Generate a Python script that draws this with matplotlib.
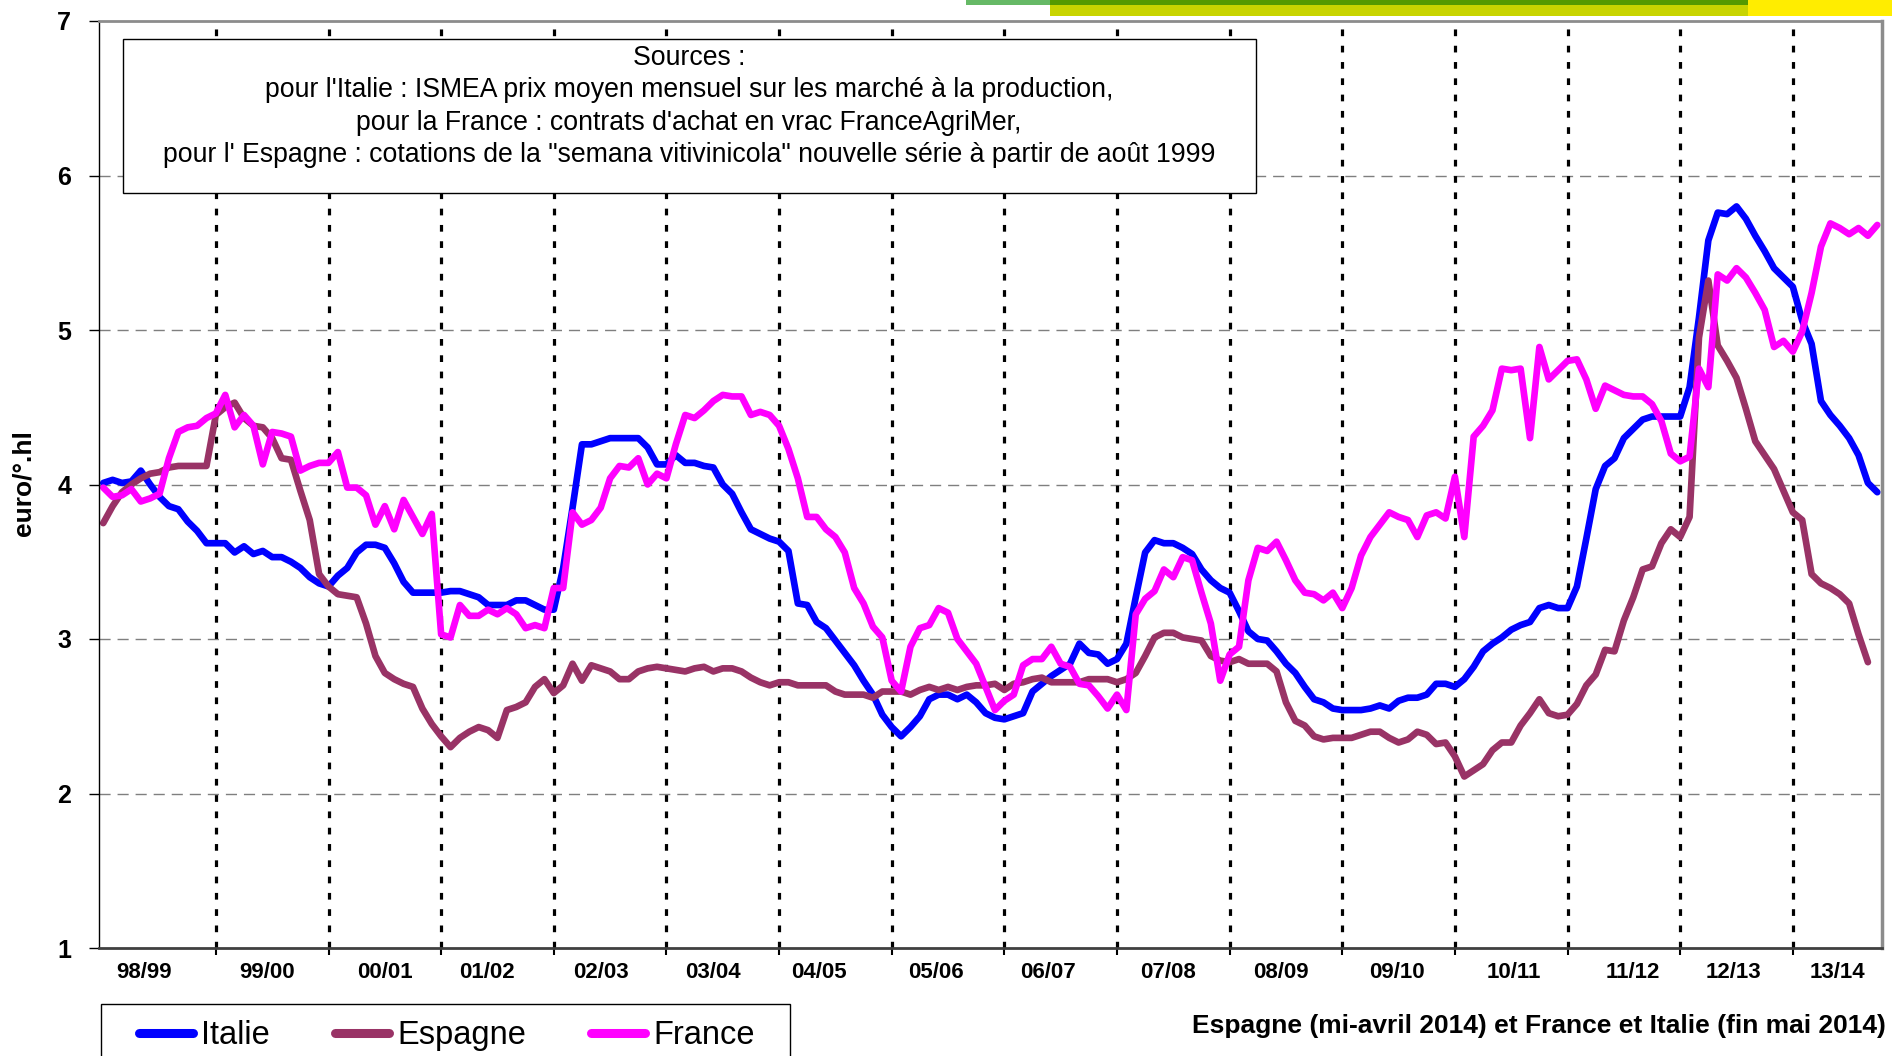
import numpy as np
import matplotlib
matplotlib.use('Agg')
from matplotlib import pyplot as plt
from matplotlib.patches import Rectangle

plt.rcParams['font.family'] = ['Liberation Sans', 'DejaVu Sans']

# prix mensuels en euro/°.hl, mois 0 = août 1998
italie = [
    4.01, 4.03, 4.01, 4.02, 4.09, 4.00, 3.92, 3.86, 3.84, 3.76,
    3.70, 3.62, 3.62, 3.62, 3.56, 3.60, 3.55, 3.57, 3.53, 3.53,
    3.50, 3.46, 3.40, 3.36, 3.34, 3.41, 3.46, 3.56, 3.61, 3.61,
    3.59, 3.49, 3.37, 3.30, 3.30, 3.30, 3.30, 3.31, 3.31, 3.29,
    3.27, 3.22, 3.22, 3.22, 3.25, 3.25, 3.22, 3.19, 3.19, 3.46,
    3.85, 4.26, 4.26, 4.28, 4.30, 4.30, 4.30, 4.30, 4.24, 4.13,
    4.13, 4.19, 4.14, 4.14, 4.12, 4.11, 4.00, 3.94, 3.82, 3.71,
    3.68, 3.65, 3.63, 3.57, 3.23, 3.22, 3.11, 3.07, 2.99, 2.91,
    2.83, 2.73, 2.64, 2.51, 2.43, 2.37, 2.43, 2.50, 2.61, 2.64,
    2.64, 2.61, 2.64, 2.59, 2.52, 2.49, 2.48, 2.50, 2.52, 2.66,
    2.71, 2.76, 2.80, 2.84, 2.97, 2.91, 2.90, 2.84, 2.87, 2.97,
    3.27, 3.56, 3.64, 3.62, 3.62, 3.59, 3.55, 3.45, 3.38, 3.33,
    3.30, 3.18, 3.05, 3.00, 2.99, 2.92, 2.84, 2.78, 2.69, 2.61,
    2.59, 2.55, 2.54, 2.54, 2.54, 2.55, 2.57, 2.55, 2.60, 2.62,
    2.62, 2.64, 2.71, 2.71, 2.69, 2.74, 2.82, 2.92, 2.97, 3.01,
    3.06, 3.09, 3.11, 3.20, 3.22, 3.20, 3.20, 3.34, 3.65, 3.97,
    4.12, 4.17, 4.30, 4.36, 4.42, 4.44, 4.44, 4.44, 4.44, 4.63,
    5.08, 5.58, 5.76, 5.75, 5.80, 5.72, 5.61, 5.51, 5.40, 5.34,
    5.28, 5.06, 4.91, 4.54, 4.45, 4.38, 4.30, 4.19, 4.01, 3.95,
]

espagne = [
    3.75, 3.86, 3.95, 4.00, 4.04, 4.07, 4.08, 4.11, 4.12, 4.12,
    4.12, 4.12, 4.45, 4.50, 4.53, 4.43, 4.38, 4.37, 4.30, 4.17,
    4.16, 3.96, 3.77, 3.42, 3.34, 3.29, 3.28, 3.27, 3.10, 2.89,
    2.78, 2.74, 2.71, 2.69, 2.55, 2.45, 2.37, 2.30, 2.36, 2.40,
    2.43, 2.41, 2.36, 2.54, 2.56, 2.59, 2.69, 2.74, 2.65, 2.70,
    2.84, 2.73, 2.83, 2.81, 2.79, 2.74, 2.74, 2.79, 2.81, 2.82,
    2.81, 2.80, 2.79, 2.81, 2.82, 2.79, 2.81, 2.81, 2.79, 2.75,
    2.72, 2.70, 2.72, 2.72, 2.70, 2.70, 2.70, 2.70, 2.66, 2.64,
    2.64, 2.64, 2.62, 2.66, 2.66, 2.66, 2.64, 2.67, 2.69, 2.67,
    2.69, 2.67, 2.69, 2.70, 2.70, 2.71, 2.67, 2.71, 2.72, 2.74,
    2.75, 2.72, 2.72, 2.72, 2.72, 2.74, 2.74, 2.74, 2.72, 2.74,
    2.78, 2.89, 3.01, 3.04, 3.04, 3.01, 3.00, 2.99, 2.89, 2.86,
    2.85, 2.87, 2.84, 2.84, 2.84, 2.79, 2.59, 2.47, 2.44, 2.37,
    2.35, 2.36, 2.36, 2.36, 2.38, 2.40, 2.40, 2.36, 2.33, 2.35,
    2.40, 2.38, 2.32, 2.33, 2.24, 2.11, 2.15, 2.19, 2.28, 2.33,
    2.33, 2.44, 2.52, 2.61, 2.52, 2.50, 2.51, 2.58, 2.70, 2.77,
    2.93, 2.92, 3.12, 3.27, 3.45, 3.47, 3.62, 3.71, 3.66, 3.79,
    4.95, 5.32, 4.90, 4.80, 4.69, 4.49, 4.28, 4.19, 4.10, 3.96,
    3.82, 3.77, 3.42, 3.36, 3.33, 3.29, 3.23, 3.03, 2.85,
]

france = [
    3.98, 3.92, 3.93, 3.97, 3.89, 3.91, 3.94, 4.17, 4.34, 4.37,
    4.38, 4.43, 4.46, 4.58, 4.37, 4.45, 4.38, 4.13, 4.34, 4.33,
    4.31, 4.09, 4.12, 4.14, 4.14, 4.21, 3.98, 3.98, 3.93, 3.74,
    3.86, 3.71, 3.90, 3.79, 3.68, 3.81, 3.03, 3.01, 3.22, 3.15,
    3.15, 3.19, 3.16, 3.20, 3.16, 3.07, 3.09, 3.07, 3.33, 3.33,
    3.82, 3.74, 3.77, 3.85, 4.04, 4.12, 4.11, 4.17, 4.00, 4.07,
    4.04, 4.26, 4.45, 4.43, 4.48, 4.54, 4.58, 4.57, 4.57, 4.45,
    4.47, 4.45, 4.38, 4.23, 4.04, 3.79, 3.79, 3.71, 3.66, 3.56,
    3.33, 3.23, 3.08, 3.01, 2.73, 2.66, 2.95, 3.07, 3.09, 3.20,
    3.17, 3.00, 2.92, 2.84, 2.69, 2.54, 2.60, 2.64, 2.83, 2.87,
    2.87, 2.95, 2.84, 2.82, 2.71, 2.70, 2.63, 2.55, 2.64, 2.54,
    3.16, 3.26, 3.31, 3.45, 3.40, 3.53, 3.51, 3.30, 3.10, 2.73,
    2.90, 2.95, 3.38, 3.59, 3.57, 3.63, 3.51, 3.38, 3.30, 3.29,
    3.25, 3.30, 3.20, 3.33, 3.54, 3.66, 3.74, 3.82, 3.79, 3.77,
    3.66, 3.80, 3.82, 3.78, 4.05, 3.66, 4.31, 4.38, 4.48, 4.75,
    4.74, 4.75, 4.30, 4.89, 4.68, 4.74, 4.80, 4.81, 4.68, 4.49,
    4.64, 4.61, 4.58, 4.57, 4.57, 4.52, 4.41, 4.20, 4.15, 4.18,
    4.75, 4.63, 5.36, 5.32, 5.40, 5.34, 5.24, 5.13, 4.89, 4.93,
    4.86, 4.99, 5.24, 5.54, 5.69, 5.66, 5.62, 5.66, 5.61, 5.68,
]

saisons = ['98/99', '99/00', '00/01', '01/02', '02/03', '03/04', '04/05', '05/06',
           '06/07', '07/08', '08/09', '09/10', '10/11', '11/12', '12/13', '13/14']
# position des étiquettes (en mois) telle qu'elle apparaît sur le graphique d'origine
pos_saisons = [4.3, 17.5, 30.0, 40.9, 53.0, 65.0, 76.3, 88.7,
               100.7, 113.4, 125.5, 137.8, 150.3, 163.0, 173.7, 184.8]
debuts_campagne = list(range(12, 181, 12))  # août de chaque année

sources = ("Sources :\n"
           "pour l'Italie : ISMEA prix moyen mensuel sur les marché à la production,\n"
           "pour la France : contrats d'achat en vrac FranceAgriMer,\n"
           "pour l' Espagne : cotations de la \"semana vitivinicola\" nouvelle série à partir de août 1999")

fig = plt.figure(figsize=(18.92, 10.56), dpi=100)
W, H = 1892, 1056
ax = fig.add_axes([99 / W, 1 - 948 / H, (1882 - 99) / W, (948 - 21) / H])

# grille
for v in range(2, 7):
    ax.axhline(v, color='#7f7f7f', lw=1, ls=(0, (8, 5)), zorder=1)
for s in debuts_campagne:
    ax.axvline(s, color='black', lw=2.3, ls=(0, (2.1, 3.0)), zorder=1)

style = dict(lw=4.8, solid_joinstyle='round', solid_capstyle='round', zorder=2)
l_it, = ax.plot(np.arange(len(italie)), italie, color='#0000ff', label='Italie', **style)
l_es, = ax.plot(np.arange(len(espagne)), espagne, color='#993366', label='Espagne', **style)
l_fr, = ax.plot(np.arange(len(france)), france, color='#ff00ff', label='France', **style)

ax.set_xlim(-0.45, 189.5)
ax.set_ylim(1, 7)

ax.set_yticks(range(1, 8))
ax.set_yticklabels([str(v) for v in range(1, 8)], fontsize=18, fontweight='bold')
ax.tick_params(axis='y', direction='out', length=7, width=1, pad=13)

ax.set_xticks(debuts_campagne)
ax.set_xticklabels([])
ax.tick_params(axis='x', which='major', direction='out', length=5, width=1.5)
ax.set_xticks(pos_saisons, minor=True)
ax.set_xticklabels(saisons, minor=True, fontsize=16, fontweight='bold')
ax.tick_params(axis='x', which='minor', length=0, pad=10)

ax.spines['left'].set_color('black')
ax.spines['left'].set_linewidth(1)
ax.spines['bottom'].set_color('#404040')
ax.spines['bottom'].set_linewidth(2)
ax.spines['top'].set_color('#8c8c8c')
ax.spines['top'].set_linewidth(2)
ax.spines['right'].set_color('#8c8c8c')
ax.spines['right'].set_linewidth(2.5)

# cadre des sources
ax.add_patch(Rectangle((0.0135, 0.8145), 0.6355, 0.1661, transform=ax.transAxes,
                       facecolor='white', edgecolor='black', lw=1, zorder=3))
ax.text(0.331, 0.9078, sources, transform=ax.transAxes, ha='center', va='center',
        fontsize=19.2, linespacing=1.33, zorder=4)

fig.text(24 / W, 1 - 483 / H, 'euro/°.hl', rotation=90, ha='center', va='center',
         fontsize=19, fontweight='bold')
fig.text(1886 / W, 1 - 1026 / H, 'Espagne (mi-avril 2014) et France et Italie (fin mai 2014)',
         ha='right', va='center', fontsize=19, fontweight='bold')

# légende
leg = fig.legend(handles=[l_it, l_es, l_fr], loc='upper left',
                 bbox_to_anchor=(139 / W, 1 - 1020 / H), ncol=3, frameon=False,
                 fontsize=23.5, handlelength=1.66, handletextpad=0.24,
                 columnspacing=2.0, borderpad=0, borderaxespad=0)
for h in leg.legend_handles:
    h.set_linewidth(6.5)
    h.set_solid_capstyle('round')
fig.patches.append(Rectangle((101 / W, 1 - 1070 / H), (790 - 101) / W, (1070 - 1004) / H,
                             transform=fig.transFigure, fill=False, edgecolor='black', lw=1))

# bandeau coloré en haut
for x0, x1, y0, y1, c in [(966, 1050, 0, 5, '#66b966'), (1050, 1748, 0, 5, '#559a00'),
                          (1050, 1748, 5, 16, '#c8d400'), (1748, 1892, 0, 16, '#ffed00')]:
    fig.patches.append(Rectangle((x0 / W, 1 - y1 / H), (x1 - x0) / W, (y1 - y0) / H,
                                 transform=fig.transFigure, facecolor=c, edgecolor='none'))

fig.savefig('out.png', dpi=100)
